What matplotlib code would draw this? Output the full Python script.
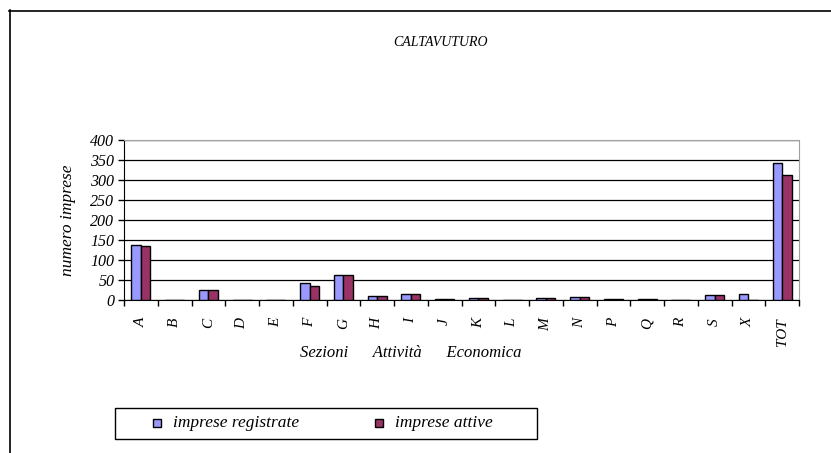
import matplotlib
matplotlib.use("Agg")
import matplotlib.pyplot as plt
import numpy as np
from matplotlib.patches import Rectangle
from matplotlib.lines import Line2D

# data
sezioni = ['A', 'B', 'C', 'D', 'E', 'F', 'G', 'H', 'I', 'J', 'K', 'L', 'M', 'N', 'P', 'Q', 'R', 'S', 'X', 'TOT']
registrate = [138, 1, 25, 0, 0, 43, 62, 10, 15, 3, 5, 0, 4, 8, 2, 2, 1, 13, 14, 343]
attive = [136, 1, 24, 0, 0, 35, 62, 9, 14, 2, 5, 0, 4, 8, 2, 2, 1, 13, 0, 312]
serie = ['imprese registrate', 'imprese attive']

C_REG = '#9999FF'
C_ATT = '#993366'

plt.rcParams['font.family'] = ['Liberation Serif', 'DejaVu Serif']
plt.rcParams['font.style'] = 'italic'

fig = plt.figure(figsize=(8.31, 4.53), dpi=100)
W, H = 831, 453


def fx(px):
    return px / W


def fy(py):
    return 1 - py / H


ax = fig.add_axes([fx(124), fy(300), fx(799 - 124), (300 - 140) / H])

x = np.arange(len(sezioni))
bw = 0.28
ax.bar(x - bw / 2, registrate, bw, color=C_REG, edgecolor='black', linewidth=1, zorder=3)
ax.bar(x + bw / 2, attive, bw, color=C_ATT, edgecolor='black', linewidth=1, zorder=3)

ax.set_xlim(-0.5, len(sezioni) - 0.5)
ax.set_ylim(0, 400)
ax.set_yticks(range(0, 401, 50))
ax.yaxis.grid(True, color='black', linewidth=0.9, zorder=0)
ax.set_axisbelow(True)

ax.set_xticks(x)
ax.set_xticklabels(sezioni, rotation=90, fontsize=11, style='italic')
ax.set_xticks(np.arange(-0.5, len(sezioni)), minor=True)
ax.tick_params(axis='x', which='major', length=0, pad=13)
ax.tick_params(axis='x', which='minor', length=4, direction='out', width=1)
ax.tick_params(axis='y', length=4, direction='out', width=1, labelsize=11.5, pad=3)
for lab in ax.get_yticklabels():
    lab.set_style('italic')

ax.spines['left'].set_color('black')
ax.spines['bottom'].set_color('black')
ax.spines['top'].set_color('#A0A0A0')
ax.spines['right'].set_color('#A0A0A0')

fig.text(fx(68), fy(220), 'numero imprese', rotation=90, ha='center', va='center',
         fontsize=12.5, style='italic')
fig.text(fx(411), fy(353), 'Sezioni      Attività      Economica', ha='center', va='center',
         fontsize=12, style='italic')
fig.text(fx(440), fy(42), 'CALTAVUTURO', ha='center', va='center', fontsize=10, style='italic')

# legend box (drawn by hand to match the wide frame of the original)
fig.patches.append(Rectangle((fx(115), fy(439)), fx(537 - 115), (439 - 408) / H,
                             transform=fig.transFigure, fill=False, edgecolor='black', linewidth=1))
for name, col, mx in zip(serie, [C_REG, C_ATT], [153, 375]):
    fig.patches.append(Rectangle((fx(mx), fy(427)), fx(8), 8 / H, transform=fig.transFigure,
                                 facecolor=col, edgecolor='black', linewidth=1))
    fig.text(fx(mx + 20), fy(423), name, ha='left', va='center', fontsize=12.5, style='italic')

# outer chart frame (left and top edges visible)
fig.lines.append(Line2D([fx(9.5), fx(9.5)], [fy(10), 0], transform=fig.transFigure,
                        color='black', linewidth=1.2))
fig.lines.append(Line2D([fx(9), 1], [fy(10.5), fy(10.5)], transform=fig.transFigure,
                        color='black', linewidth=1.2))

plt.savefig('out.png', dpi=100)
